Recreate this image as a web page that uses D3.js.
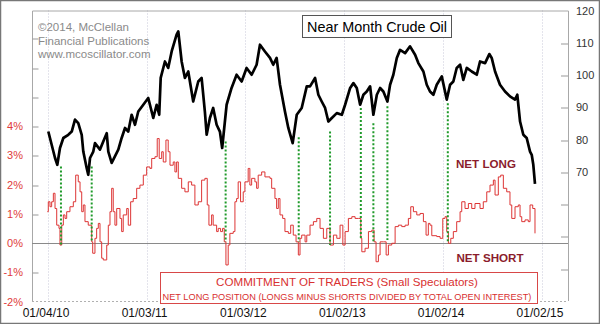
<!DOCTYPE html>
<html><head><meta charset="utf-8">
<script src="https://cdn.jsdelivr.net/npm/d3@7"></script>
<style>body{margin:0;background:#fff}svg{display:block}text{font-family:"Liberation Sans",Arial,sans-serif}</style>
</head><body><svg id="c" width="600" height="324"></svg>
<script>
// ---- data (dates as decimal years) ----
const crudeT = [2010.011,2010.045,2010.079,2010.102,2010.129,2010.163,2010.213,2010.248,2010.281,2010.314,2010.349,2010.365,2010.399,2010.415,2010.433,2010.466,2010.483,2010.534,2010.567,2010.602,2010.618,2010.652,2010.685,2010.719,2010.753,2010.787,2010.820,2010.854,2010.888,2010.921,2010.972,2011.022,2011.073,2011.107,2011.133,2011.148,2011.191,2011.224,2011.259,2011.309,2011.326,2011.360,2011.393,2011.427,2011.477,2011.528,2011.562,2011.595,2011.613,2011.646,2011.679,2011.714,2011.747,2011.770,2011.815,2011.865,2011.916,2011.967,2012.017,2012.068,2012.118,2012.152,2012.202,2012.253,2012.286,2012.320,2012.354,2012.404,2012.438,2012.482,2012.523,2012.573,2012.624,2012.657,2012.708,2012.741,2012.775,2012.809,2012.842,2012.877,2012.927,2012.978,2013.011,2013.062,2013.095,2013.129,2013.163,2013.196,2013.230,2013.264,2013.297,2013.332,2013.365,2013.398,2013.439,2013.466,2013.499,2013.534,2013.567,2013.618,2013.668,2013.719,2013.752,2013.803,2013.837,2013.870,2013.904,2013.938,2013.989,2014.039,2014.073,2014.106,2014.140,2014.174,2014.207,2014.242,2014.292,2014.343,2014.376,2014.427,2014.470,2014.494,2014.528,2014.578,2014.629,2014.679,2014.730,2014.753,2014.781,2014.814,2014.848,2014.882,2014.899,2014.915,2014.932];
const crudePrice = [82.5,78.4,74.3,72.2,77.4,80.5,81.5,82.5,86.2,85.1,81.5,76.3,71.2,69.1,74.3,76.3,78.9,76.9,79.4,82.0,76.3,72.8,74.8,76.9,80.5,83.6,82.5,87.7,84.6,88.7,90.8,92.9,86.7,90.8,87.7,99.1,104.2,102.2,107.3,112.5,113.5,104.2,99.1,101.1,91.8,98.0,99.1,88.7,81.5,86.7,89.8,84.6,82.5,77.4,90.8,96.0,100.1,98.0,102.2,100.1,103.2,109.4,107.3,105.3,103.2,105.3,97.0,88.7,83.6,78.9,87.7,89.8,96.5,96.5,99.1,93.9,91.8,89.8,85.6,86.7,88.2,87.7,90.8,96.0,97.5,96.0,90.8,93.9,94.9,96.5,87.7,93.9,96.0,94.9,91.8,97.0,100.1,105.3,107.8,106.8,108.9,106.3,103.7,101.1,97.0,94.9,93.9,97.0,99.6,92.4,97.0,98.0,102.2,103.2,98.5,102.2,101.1,100.1,104.2,103.7,106.5,105.3,101.1,97.0,94.9,93.4,92.4,93.9,85.6,81.5,80.5,76.3,75.3,72.2,66.3];

const cotT = [2010.001,2010.011,2010.028,2010.045,2010.062,2010.079,2010.096,2010.119,2010.129,2010.147,2010.163,2010.180,2010.197,2010.230,2010.264,2010.288,2010.314,2010.332,2010.349,2010.365,2010.382,2010.415,2010.450,2010.460,2010.483,2010.500,2010.517,2010.534,2010.551,2010.567,2010.602,2010.618,2010.635,2010.652,2010.668,2010.685,2010.703,2010.736,2010.753,2010.769,2010.804,2010.820,2010.844,2010.870,2010.905,2010.938,2010.972,2011.006,2011.039,2011.057,2011.090,2011.113,2011.133,2011.158,2011.174,2011.201,2011.224,2011.242,2011.275,2011.292,2011.309,2011.326,2011.360,2011.393,2011.427,2011.461,2011.494,2011.528,2011.562,2011.595,2011.619,2011.636,2011.663,2011.679,2011.714,2011.730,2011.754,2011.774,2011.791,2011.808,2011.831,2011.848,2011.882,2011.899,2011.916,2011.932,2011.956,2011.983,2012.000,2012.033,2012.050,2012.068,2012.101,2012.118,2012.134,2012.169,2012.202,2012.253,2012.270,2012.303,2012.320,2012.337,2012.354,2012.381,2012.404,2012.438,2012.462,2012.488,2012.516,2012.539,2012.556,2012.573,2012.607,2012.624,2012.657,2012.691,2012.725,2012.758,2012.792,2012.826,2012.859,2012.893,2012.927,2012.960,2012.988,2013.011,2013.044,2013.079,2013.112,2013.146,2013.170,2013.180,2013.213,2013.247,2013.281,2013.304,2013.324,2013.348,2013.365,2013.398,2013.426,2013.449,2013.483,2013.517,2013.550,2013.584,2013.618,2013.651,2013.675,2013.702,2013.736,2013.769,2013.803,2013.830,2013.853,2013.870,2013.888,2013.938,2013.972,2013.999,2014.022,2014.039,2014.056,2014.080,2014.106,2014.140,2014.174,2014.191,2014.224,2014.258,2014.292,2014.325,2014.376,2014.409,2014.444,2014.477,2014.511,2014.528,2014.561,2014.585,2014.612,2014.646,2014.679,2014.697,2014.730,2014.763,2014.781,2014.798,2014.831,2014.864,2014.882,2014.909,2014.932];
const cotNetLong = [1.07,1.41,1.24,1.41,1.70,1.18,0.61,0.50,-0.07,0.61,0.96,0.84,1.07,1.24,1.41,2.32,2.09,1.75,1.07,1.30,0.73,0.61,0.04,-0.35,0.16,0.50,0.67,0.04,-0.52,-0.58,-0.07,0.61,1.07,1.87,1.07,0.61,1.18,0.84,0.39,0.96,1.18,0.61,1.41,1.52,1.87,1.98,2.32,2.60,2.55,2.89,2.95,3.57,2.89,3.12,2.77,3.52,3.12,2.66,2.77,2.43,2.77,2.21,1.87,1.75,2.09,1.98,1.30,1.41,2.15,2.21,1.30,0.61,0.96,0.61,0.39,0.50,0.39,0.50,0.04,-0.75,-0.07,0.33,0.39,1.41,1.52,2.09,1.41,1.75,2.09,2.55,1.98,2.21,2.09,1.87,2.32,2.43,2.26,2.21,1.87,1.52,1.18,1.52,0.96,0.84,0.39,0.33,0.61,0.27,0.04,-0.41,0.16,0.27,0.04,0.27,0.61,0.73,0.84,0.50,0.16,0.50,-0.07,0.27,0.16,0.61,-0.07,0.39,0.84,0.90,0.84,0.84,0.16,-0.30,-0.18,0.39,0.44,0.04,-0.64,-0.41,0.04,0.04,-0.41,-0.07,-0.01,0.56,0.61,0.56,0.61,0.84,1.24,1.07,0.96,1.01,0.73,0.27,0.67,0.61,0.25,0.22,0.16,0.84,0.90,0.39,-0.01,0.16,0.39,0.73,1.07,1.41,1.18,1.35,1.18,1.35,1.18,1.41,1.75,1.98,2.15,1.64,2.26,2.32,1.87,1.75,1.30,0.84,1.24,1.30,0.90,0.73,0.79,0.73,1.30,1.18,0.33];

const signalT = [2010.139,2010.450,2011.805,2012.543,2012.859,2013.170,2013.297,2013.439,2014.050];
const signalPrice = [71.7,71.7,79.4,80.7,82.5,89.8,85.1,90.3,91.3];
const signalCot = [-0.07,0.04,0.04,0.04,-0.07,0.16,0.04,0.10,-0.01];

const xTickDates = ["2010-01-04","2011-01-03","2012-01-03","2013-01-02","2014-01-02","2015-01-02"];
const xTickLabels = ["01/04/10","01/03/11","01/03/12","01/02/13","01/02/14","01/02/15"];
const leftTickValues = [-1,1,2,3,4,5,6,7];
const leftLabelValues = [-2,-1,0,1,2,3,4];
const rightTickValues = [40,50,60,70,80,90,100,110];
const rightLabelValues = [70,80,90,100,110,120];

// ---- helpers ----
function yd(t){const y=Math.floor(t);const s=Date.UTC(y,0,1),e=Date.UTC(y+1,0,1);return new Date(s+(t-y)*(e-s));}
const pd = s=>{const [y,m,d]=s.split("-").map(Number);return new Date(Date.UTC(y,m-1,d));};

const svg = d3.select("#c");
const L=32,R=568,T=10.5,B=301;
const x = d3.scaleUtc().domain([yd(2009.846),yd(2015.266)]).range([L,R]);
const yR = d3.scaleLinear().domain([30,120]).range([B,T]);
const yL = d3.scaleLinear().domain([-2,4]).range([301.5,126]);

svg.append("rect").attr("width",600).attr("height",324).attr("fill","#fff");

// vertical grid
svg.append("g").selectAll("line").data(xTickDates).join("line")
  .attr("x1",d=>Math.round(x(pd(d)))+0.5).attr("x2",d=>Math.round(x(pd(d)))+0.5)
  .attr("y1",T).attr("y2",B).attr("stroke","#c8c8d8").attr("stroke-dasharray","1,2");

// plot frame
svg.append("path").attr("d",`M${L+0.5},${B}V${T+0.5}H${R+0.5}V${B}`).attr("fill","none").attr("stroke","#a8a8a8");
svg.append("line").attr("x1",L).attr("x2",R).attr("y1",B+0.5).attr("y2",B+0.5).attr("stroke","#b0b0b0").attr("stroke-dasharray","2,2");

// left axis ticks (inside)
const gl = svg.append("g").attr("transform",`translate(${L+0.5},0)`).call(
  d3.axisRight(yL).tickValues(leftTickValues).tickSize(6).tickFormat(""));
gl.select(".domain").remove();
gl.selectAll("line").attr("stroke","#999").attr("transform",d=>`translate(0,${Math.round(yL(d))+0.5-yL(d)})`);
svg.append("g").selectAll("text").data(leftLabelValues).join("text")
  .attr("x",23).attr("y",d=>yL(d)+4).attr("text-anchor","end")
  .attr("font-size",11).attr("fill","#e03a3a").text(d=>d+"%");

// right axis ticks (inside)
const gr = svg.append("g").attr("transform",`translate(${R},0)`).call(
  d3.axisLeft(yR).tickValues(rightTickValues).tickSize(7).tickFormat(""));
gr.select(".domain").remove();
gr.selectAll("line").attr("stroke","#999").attr("transform",d=>`translate(0,${Math.round(yR(d))+0.5-yR(d)})`);
svg.append("g").selectAll("text").data(rightLabelValues).join("text")
  .attr("x",576).attr("y",d=>yR(d)+4).attr("font-size",11).attr("fill","#333").text(d=>d);

// zero line
svg.append("line").attr("x1",L).attr("x2",R).attr("y1",Math.round(yL(0))+0.5).attr("y2",Math.round(yL(0))+0.5)
  .attr("stroke","#8a8a8a");

// x labels
svg.append("g").selectAll("text").data(xTickDates).join("text")
  .attr("x",(d)=>x(pd(d))-2).attr("y",317).attr("text-anchor","middle")
  .attr("font-size",12).attr("fill","#111").text((d,i)=>xTickLabels[i]);

// COT line
const cot = cotT.map((t,i)=>({d:yd(t),v:cotNetLong[i]}));
svg.append("path").datum(cot).attr("fill","none").attr("stroke","#dd3535").attr("stroke-width",1)
  .attr("d",d3.line().curve(d3.curveStepAfter).x(d=>x(d.d)).y(d=>yL(d.v)));

// signal lines
const sig = signalT.map((t,i)=>({d:yd(t),p:signalPrice[i],c:signalCot[i]}));
svg.append("g").selectAll("line").data(sig).join("line")
  .attr("x1",d=>x(d.d)).attr("x2",d=>x(d.d)).attr("y1",d=>yR(d.p)).attr("y2",d=>yL(d.c))
  .attr("stroke","#1f9a2a").attr("stroke-width",2).attr("stroke-dasharray","2,2");

// crude line
const crude = crudeT.map((t,i)=>({d:yd(t),v:crudePrice[i]}));
svg.append("path").datum(crude).attr("fill","none").attr("stroke","#000").attr("stroke-width",2.7)
  .attr("stroke-linejoin","round")
  .attr("d",d3.line().x(d=>x(d.d)).y(d=>yR(d.v)));

// copyright
const cp = ["©2014, McClellan","Financial Publications","www.mcoscillator.com"];
svg.append("g").selectAll("text").data(cp).join("text")
  .attr("x",38).attr("y",(d,i)=>31+i*13.5).attr("font-size",11.5).attr("fill","#8a8a8a").text(d=>d);

// title box
svg.append("rect").attr("x",302.5).attr("y",15.5).attr("width",149).attr("height",22).attr("fill","#fff").attr("stroke","#555");
svg.append("text").attr("x",377).attr("y",31.5).attr("text-anchor","middle").attr("font-size",14.4).attr("fill","#000").text("Near Month Crude Oil");

// NET LONG / NET SHORT
svg.append("text").attr("x",456).attr("y",168).attr("font-size",11.6).attr("font-weight","bold").attr("fill","#8b1c2c").text("NET LONG");
svg.append("text").attr("x",456.5).attr("y",262).attr("font-size",11.6).attr("font-weight","bold").attr("fill","#8b1c2c").text("NET SHORT");

// legend box
svg.append("rect").attr("x",160.5).attr("y",272.5).attr("width",377).attr("height",31).attr("fill","#fff").attr("stroke","#d84848");
svg.append("text").attr("x",347).attr("y",286).attr("text-anchor","middle").attr("font-size",11.6).attr("fill","#d83030").text("COMMITMENT OF TRADERS (Small Speculators)");
svg.append("text").attr("x",347).attr("y",300).attr("text-anchor","middle").attr("font-size",9.2).attr("fill","#d83030").text("NET LONG POSITION (LONGS MINUS SHORTS DIVIDED BY TOTAL OPEN INTEREST)");

// outer frame
svg.append("rect").attr("x",0.5).attr("y",0.5).attr("width",599).attr("height",323).attr("fill","none").attr("stroke","#777").attr("stroke-width",1.5);
</script></body></html>
